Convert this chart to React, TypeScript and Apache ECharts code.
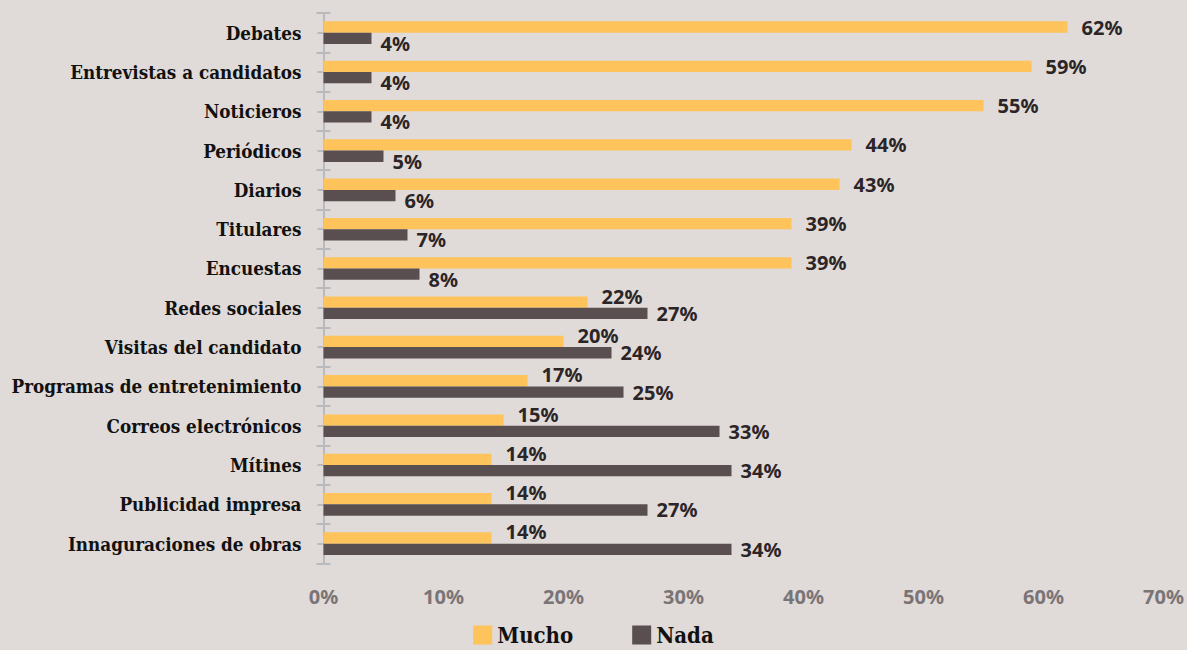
import React, { useEffect, useRef } from "react";
import * as echarts from "echarts";

const categories = [
  "Debates",
  "Entrevistas a candidatos",
  "Noticieros",
  "Periódicos",
  "Diarios",
  "Titulares",
  "Encuestas",
  "Redes sociales",
  "Visitas del candidato",
  "Programas de entretenimiento",
  "Correos electrónicos",
  "Mítines",
  "Publicidad impresa",
  "Innaguraciones de obras",
];
const mucho = [62, 59, 55, 44, 43, 39, 39, 22, 20, 17, 15, 14, 14, 14];
const nada = [4, 4, 4, 5, 6, 7, 8, 27, 24, 25, 33, 34, 27, 34];
const seriesNames = ["Mucho", "Nada"];
const xTicks = { min: 0, max: 70, interval: 10 };

const SERIF = "'DejaVu Serif Condensed', 'DejaVu Serif', serif";
const SANS = "'Noto Sans', sans-serif";
const YELLOW = "#fec35b";
const DARK = "#5a4f50";
const AXIS = "#b9babe";
const LABEL = "#2b2527";

export default function App() {
  const ref = useRef<HTMLDivElement>(null);
  useEffect(() => {
    document.body.style.margin = "0";
    const chart = echarts.init(ref.current!, undefined, { renderer: "svg" });
    const baseLabel = {
      show: true,
      position: "right",
      fontFamily: SANS,
      fontWeight: "bold",
      fontSize: 20,
      color: LABEL,
      formatter: "{c}%",
    };
    chart.setOption({
      animation: false,
      backgroundColor: "#e0dad8",
      grid: { left: 323.5, width: 846, top: 13, height: 550.3, containLabel: false },
      legend: {
        data: seriesNames,
        top: 624,
        left: "center",
        padding: 0,
        itemWidth: 19,
        itemHeight: 19,
        itemGap: 59,
        icon: "rect",
        textStyle: {
          fontFamily: SERIF,
          fontWeight: "bold",
          fontSize: 22,
          lineHeight: 22,
          color: "#111",
        },
      },
      xAxis: {
        type: "value",
        min: xTicks.min,
        max: xTicks.max,
        interval: xTicks.interval,
        axisLine: { show: false },
        axisTick: { show: false },
        splitLine: { show: false },
        axisLabel: {
          formatter: "{value}%",
          margin: 23,
          fontFamily: SANS,
          fontWeight: "bold",
          fontSize: 20,
          color: "#7a7476",
        },
      },
      yAxis: [
        {
          type: "category",
          data: categories,
          inverse: true,
          position: "left",
          axisLine: { show: true, lineStyle: { color: AXIS, width: 2 } },
          axisTick: { show: true, length: 7, lineStyle: { color: AXIS, width: 2 } },
          axisLabel: {
            margin: 22,
            fontFamily: SERIF,
            fontWeight: "bold",
            fontSize: 18.7,
            color: "#111",
          },
        },
        {
          type: "category",
          data: categories,
          inverse: true,
          position: "left",
          axisLine: { show: false },
          axisTick: { show: true, inside: true, length: 7, lineStyle: { color: AXIS, width: 2 } },
          axisLabel: { show: false },
        },
        {
          type: "category",
          data: categories,
          inverse: true,
          position: "left",
          axisLine: { show: false },
          axisTick: { show: true, alignWithLabel: true, length: 6, lineStyle: { color: AXIS, width: 2 } },
          axisLabel: { show: false },
        },
      ],
      series: [
        {
          name: seriesNames[0],
          type: "bar",
          yAxisIndex: 0,
          barWidth: 11.3,
          barGap: "0%",
          itemStyle: { color: YELLOW },
          data: mucho.map((v, i) => ({
            value: v,
            label: { offset: [0, v > nada[i] ? 0 : -6] },
          })),
          label: { ...baseLabel, distance: 14 },
        },
        {
          name: seriesNames[1],
          type: "bar",
          yAxisIndex: 0,
          barWidth: 11.3,
          barGap: "0%",
          itemStyle: { color: DARK },
          data: nada.map((v, i) => ({
            value: v,
            label: { offset: [0, v < mucho[i] ? 5 : 0] },
          })),
          label: { ...baseLabel, distance: 9 },
        },
      ],
    });
    return () => chart.dispose();
  }, []);
  return <div ref={ref} style={{ width: 1187, height: 650 }} />;
}
